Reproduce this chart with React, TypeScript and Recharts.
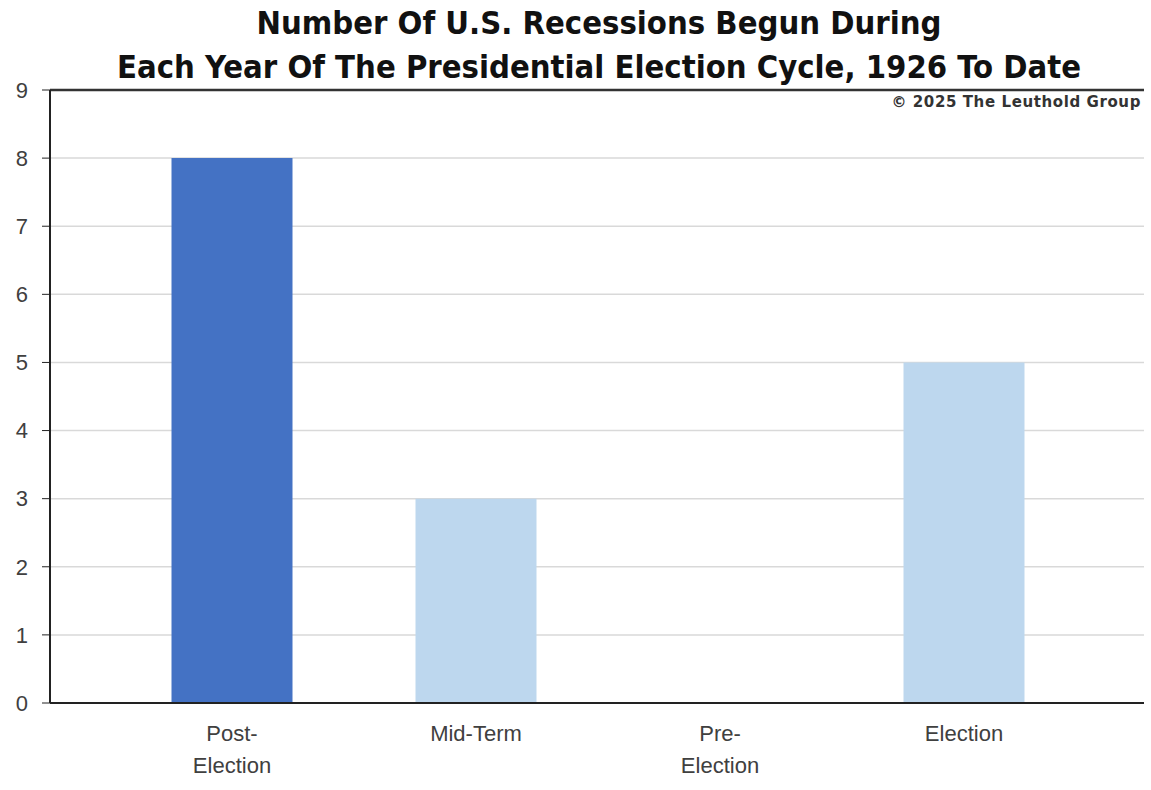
import React from "react";
import { Bar, BarChart, CartesianGrid, Cell, ReferenceLine, XAxis, YAxis } from "recharts";

const categories = ["Post-\nElection", "Mid-Term", "Pre-\nElection", "Election"];
const recessions = [8, 3, 0, 5];
const barColors = ["#4472C4", "#BDD7EE", "#BDD7EE", "#BDD7EE"];
const yTicks = [0, 1, 2, 3, 4, 5, 6, 7, 8, 9];

const data = categories.map((name, i) => ({ name, value: recessions[i] }));

const labelFont = "'Liberation Sans', Arial, sans-serif";

function CategoryTick(props: any) {
  const { x, y, payload } = props;
  const lines = String(payload.value).split("\n");
  return (
    <text x={x} y={y} textAnchor="middle" fill="#404040" fontSize={22} fontFamily={labelFont}>
      {lines.map((line, i) => (
        <tspan key={i} x={x} dy={i === 0 ? 30 : 32}>
          {line}
        </tspan>
      ))}
    </text>
  );
}

export default function App() {
  return (
    <div style={{ position: "absolute", left: 0, top: 0, width: 1151, height: 790, background: "#fff" }}>
      <div
        style={{
          position: "absolute",
          left: 0,
          top: 1,
          width: 1198,
          textAlign: "center",
          fontFamily: "'DejaVu Sans Condensed', 'DejaVu Sans', sans-serif",
          fontWeight: "bold",
          fontSize: 32.5,
          lineHeight: "44px",
          color: "#111",
        }}
      >
        Number Of U.S. Recessions Begun During
        <br />
        Each Year Of The Presidential Election Cycle, 1926 To Date
      </div>
      <div
        style={{
          position: "absolute",
          right: 10,
          top: 93,
          fontFamily: "'DejaVu Sans', sans-serif",
          fontWeight: "bold",
          fontSize: 15,
          letterSpacing: 0.6,
          color: "#333",
        }}
      >
        © 2025 The Leuthold Group
      </div>
      <BarChart
        width={1151}
        height={790}
        data={data}
        margin={{ top: 90, right: 7, bottom: 0, left: 0 }}
        barCategoryGap="25%"
      >
        <CartesianGrid yAxisId="left" vertical={false} stroke="#d9d9d9" strokeWidth={1.5} />
        <XAxis
          dataKey="name"
          height={87}
          padding={{ left: 60, right: 58 }}
          tickLine={false}
          axisLine={{ stroke: "#222", strokeWidth: 2 }}
          tick={<CategoryTick />}
          interval={0}
        />
        <YAxis
          yAxisId="left"
          width={50}
          domain={[0, 9]}
          ticks={yTicks}
          interval={0}
          tickSize={8}
          tickMargin={14}
          tickLine={{ stroke: "#222" }}
          axisLine={{ stroke: "#222", strokeWidth: 2 }}
          tick={{ fill: "#404040", fontSize: 22, fontFamily: labelFont }}
        />
        <YAxis
          yAxisId="right"
          orientation="right"
          width={0}
          domain={[0, 9]}
          ticks={yTicks}
          tick={false}
          tickLine={false}
          axisLine={{ stroke: "#555", strokeWidth: 2 }}
        />
        <ReferenceLine yAxisId="left" y={9} stroke="#333" strokeWidth={2.5} />
        <Bar yAxisId="left" dataKey="value" isAnimationActive={false} maxBarSize={121}>
          {data.map((d, i) => (
            <Cell key={d.name} fill={barColors[i]} />
          ))}
        </Bar>
      </BarChart>
    </div>
  );
}
